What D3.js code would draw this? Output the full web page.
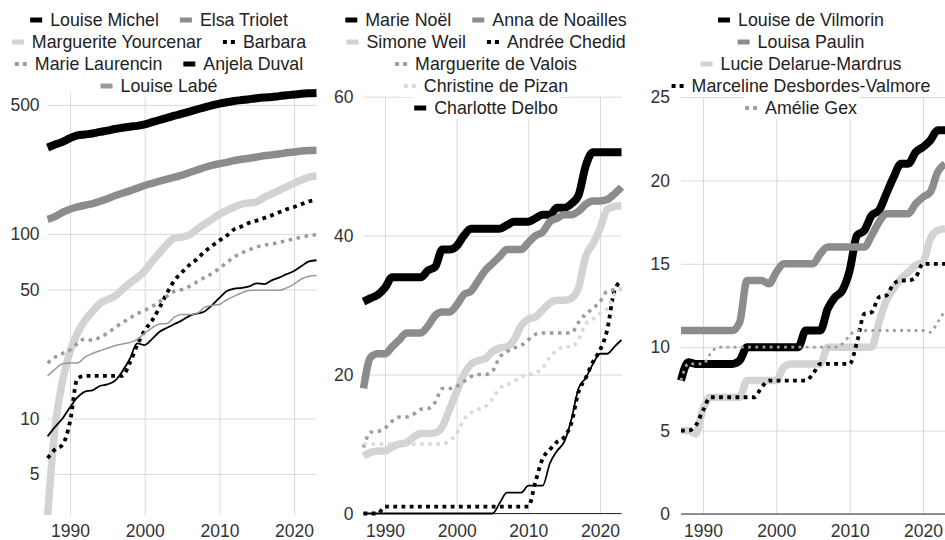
<!DOCTYPE html>
<html><head><meta charset="utf-8">
<script src="https://cdn.jsdelivr.net/npm/d3@7"></script>
<style>
body{margin:0;background:#fff;overflow:hidden;}
text{font-family:"Liberation Sans",Arial,sans-serif;}
</style>
</head><body>
<svg id="c" width="945" height="540"></svg>
<script>
// ---------- DATA ----------
const years = d3.range(1987, 2024); // 1987..2023
const xTickYears = [1990, 2000, 2010, 2020];

// Panel 1 (log scale)
const p1Ticks = [5, 10, 50, 100, 500];
const louiseMichel = [294,305,315,330,342,346,350,357,363,370, 376,381,385,392,403,414,425,437,448,460, 472,485,497,508,517,525,531,537,543,548, 552,558,564,569,575,578,580];
const elsaTriolet = [120,124,131,136,140,143,146,150,155,161, 166,171,177,183,188,193,198,203,208,215, 222,229,235,240,244,250,254,257,261,265, 268,271,275,278,281,283,284];
const margueriteYourcenar = [3,9,16,23,29,34,38,42,44,46, 50,54,58,63,71,79,88,95,96,99, 106,113,120,128,134,140,145,147,149,158, 165,172,180,188,196,203,206];
const barbara = [6.1,6.8,7.2,9.6,16.5,17,17,17,17,17, 17,20,25,30,34,40,48,56,62,68, 73,80,86,92,98,106,110,115,118,122, 126,131,136,140,145,150,153];
const marieLaurencin = [20,21.5,22.5,23.5,25.5,27,26.5,27.5,29,31, 33,35,37,38.5,40.5,43,46,49,50,52, 55,58,61,65,70,75,79,82,85,87, 88,90,92,94,96,98,99];
const anjelaDuval = [8,9,10,11.5,13,14,14.2,15,15.3,16, 18,21,25.5,25,27,29.5,31,32.5,34,36, 37,38,41,45,49,50.5,51,52,54,53.5, 56,58,60.5,63,67,71,72];
const louiseLabe = [17,18.5,19.8,20,20,21.5,22.5,23.3,24,24.8, 25.3,25.8,26.8,29,31,32.5,32.7,35.5,36.6,36.6, 37,40,41,41.5,44,46,48,49.3,49.5,49.5, 49.5,49.5,51,53.5,57,59,59.5];

// Panel 2
const p2Ticks = [0, 20, 40, 60];
const marieNoel = [30.5,31,31.5,32.5,34,34,34,34,34,35, 35.5,38,38,38.5,40,41,41,41,41,41, 41.5,42,42,42,42.5,43,43,44,44,44.6, 45.8,50,52,52,52,52,52];
const annaDeNoailles = [18,22.5,23,23,24,25,26,26,26,27, 28.5,29,29,30,31.5,32,33.5,35,36,37, 38,38,38,39,40,40.5,42,42.5,43,43, 43.5,44.5,45,45,45.2,46,47];
const simoneWeil = [8.3,8.8,9,9,9.6,10,10.2,11,11.5,11.5, 11.6,12.5,15,17.5,20,21.5,22,22.3,23.3,23.8, 24,25,27,28,28.3,29.3,30.3,30.7,30.7,31, 32.5,37,38.8,41,43.8,44.2,44.3];
const andreeChedid = [0,0,0,1,1,1,1,1,1,1, 1,1,1,1,1,1,1,1,1,1, 1,1,1,1,4.6,7.9,9.2,10.3,11,13, 17.5,19.5,21.8,23.5,26.4,32,33.5];
const margueriteDeValois = [9.5,11.7,11.8,12.3,13.3,13.9,13.9,14.3,15,15.1, 16,18,18,18.3,19,19.7,20,20,20.5,22.5, 23.3,23.8,24.2,25,25.8,26,26,26,26,26, 27.5,28.7,29.5,30.5,32,32.2,32.3];
const christineDePizan = [10,10,10,10,10,10,10,10,10,10, 10,10,10.5,11.5,13.5,14.5,15,15.4,16.5,18, 18.5,19,19.7,20,20.2,21,22.5,23.5,24,24, 25,27.3,28,28.8,29.5,31.5,32.3];
const charlotteDelbo = [0,0,0,0,0,0,0,0,0,0, 0,0,0,0,0,0,0,0,0,1.5, 3,3,3,4,4,4,7.2,9,10.3,13.5, 18,19.5,21.5,23,23,24,25];

// Panel 3
const p3Ticks = [0, 5, 10, 15, 20, 25];
const louiseDeVilmorin = [8,9.1,9,9,9,9,9,9,9.2,10, 10,10,10,10,10,10,10,11,11,11, 12.3,13,13.4,14.6,16.7,17,17.9,18.2,19.2,20.2, 21,21,21.7,22,22.4,23,23];
const louisaPaulin = [11,11,11,11,11,11,11,11,11.5,14, 14,14,13.8,14.5,15,15,15,15,15,15.6, 16,16,16,16,16,16,16.7,17.5,18,18, 18,18,18.6,19,19.3,20.5,21];
const lucieDelarueMardrus = [5,5,4.8,6.3,7,7,7,7,7,8, 8,8,8,8,8.8,9,9,9,9,9, 10,10,10,10,10,10,10,11.5,12.8,13.5, 14.1,14.5,14.9,15.1,16.5,17,17.1];
const marcelineDesbordesValmore = [5,5,5.3,6.2,7,7,7,7,7,7, 7,7.6,8,8,8,8,8,8,8.4,9, 9,9,9,9,10.3,12,12.1,13,13.1,13.8, 14,14,14.2,15,15,15,15];
const amelieGex = [8,9,9,9,9.6,10,10,10,10,10, 10,10,10,10,10,10,10,10,10,10, 10,10,10.2,10.7,11,11,11,11,11,11, 11,11,11,11,10.9,11.5,12.2];

// ---------- STYLES ----------
const styles = {
  thickBlack: {stroke:'#000000', width:8},
  thickGray:  {stroke:'#8c8c8c', width:7.5},
  thickLight: {stroke:'#d3d3d3', width:7.5},
  dotBlack:   {stroke:'#000000', width:3.8, dash:'3.8,4.4'},
  dotGray:    {stroke:'#9c9c9c', width:3.5, dash:'3.5,4.6'},
  dotLight:   {stroke:'#d9d9d9', width:3.5, dash:'3.5,4.6'},
  dotGraySm:  {stroke:'#a0a0a0', width:2.8, dash:'2.8,4.4'},
  thinBlack:  {stroke:'#000000', width:1.8},
  thinGray:   {stroke:'#999999', width:1.5}
};

const panels = [
  {x0:47.6, x1:316.5, log:true, domain:[3,580], y0:515, y1:93, ticks:p1Ticks, gap:8, legendCx:159, rows:[2,2,2,1], clip:true,
   series:[
    {name:'Louise Michel', values:louiseMichel, style:'thickBlack'},
    {name:'Elsa Triolet', values:elsaTriolet, style:'thickGray'},
    {name:'Marguerite Yourcenar', values:margueriteYourcenar, style:'thickLight'},
    {name:'Barbara', values:barbara, style:'dotBlack'},
    {name:'Marie Laurencin', values:marieLaurencin, style:'dotGray'},
    {name:'Anjela Duval', values:anjelaDuval, style:'thinBlack'},
    {name:'Louise Labé', values:louiseLabe, style:'thinGray'}
   ]},
  {x0:363.5, x1:621.5, log:false, domain:[0,60], y0:513.5, y1:96.7, ticks:p2Ticks, gap:10, legendCx:486, rows:[2,2,1,1,1], baseline:true,
   series:[
    {name:'Marie Noël', values:marieNoel, style:'thickBlack'},
    {name:'Anna de Noailles', values:annaDeNoailles, style:'thickGray'},
    {name:'Simone Weil', values:simoneWeil, style:'thickLight'},
    {name:'Andrée Chedid', values:andreeChedid, style:'dotBlack'},
    {name:'Marguerite de Valois', values:margueriteDeValois, style:'dotGray'},
    {name:'Christine de Pizan', values:christineDePizan, style:'dotLight'},
    {name:'Charlotte Delbo', values:charlotteDelbo, style:'thinBlack'}
   ]},
  {x0:681, x1:945, log:false, domain:[0,25], y0:514, y1:97, ticks:p3Ticks, gap:11, legendCx:801, rows:[1,1,1,1,1], baseline:true,
   series:[
    {name:'Louise de Vilmorin', values:louiseDeVilmorin, style:'thickBlack'},
    {name:'Louisa Paulin', values:louisaPaulin, style:'thickGray'},
    {name:'Lucie Delarue-Mardrus', values:lucieDelarueMardrus, style:'thickLight'},
    {name:'Marceline Desbordes-Valmore', values:marcelineDesbordesValmore, style:'dotBlack'},
    {name:'Amélie Gex', values:amelieGex, style:'dotGraySm'}
   ]}
];

const GRID = '#dadada';
const TXT = '#333';
const FS = 17.5;
const LFS = 17.8;
const svg = d3.select('#c');

panels.forEach((p, pi) => {
  const g = svg.append('g');
  const x = d3.scaleLinear().domain([1987, 2023]).range([p.x0, p.x1]);
  const y = (p.log ? d3.scaleLog() : d3.scaleLinear()).domain(p.domain).range([p.y0, p.y1]);

  // y axis + horizontal grid
  const ya = g.append('g').attr('transform', `translate(${p.x0},0)`)
    .call(d3.axisLeft(y).tickValues(p.ticks).tickSize(-(p.x1 - p.x0)).tickPadding(p.gap).tickFormat(d3.format('d')));
  ya.select('.domain').remove();
  ya.selectAll('line').attr('stroke', GRID).attr('stroke-width', 1);
  ya.selectAll('text').attr('fill', TXT).style('font-size', FS + 'px').style('font-family', '"Liberation Sans", Arial, sans-serif');

  // x axis + vertical grid
  const xa = g.append('g').attr('transform', `translate(0,${p.y0})`)
    .call(d3.axisBottom(x).tickValues(xTickYears).tickSize(-(p.y0 - p.y1)).tickPadding(525 - p.y0).tickFormat(d3.format('d')));
  xa.select('.domain').remove();
  xa.selectAll('line').attr('stroke', GRID).attr('stroke-width', 1);
  xa.selectAll('text').attr('fill', TXT).style('font-size', FS + 'px').style('font-family', '"Liberation Sans", Arial, sans-serif');

  if (p.baseline) {
    g.append('line').attr('x1', p.x0).attr('x2', p.x1).attr('y1', y(0)).attr('y2', y(0))
      .attr('stroke', '#333').attr('stroke-width', 1.2);
  }

  // clip
  let lg = g.append('g');
  if (p.clip) {
    const id = 'clip' + pi;
    svg.append('defs').append('clipPath').attr('id', id).append('rect')
      .attr('x', 0).attr('y', 0).attr('width', 945).attr('height', p.y0 + 0.5);
    lg.attr('clip-path', `url(#${id})`);
  }

  const line = d3.line().x((d, i) => x(years[i])).y(d => y(d)).curve(d3.curveMonotoneX);
  p.series.forEach(s => {
    const st = styles[s.style];
    lg.append('path').datum(s.values).attr('d', line)
      .attr('fill', 'none').attr('stroke', st.stroke).attr('stroke-width', st.width)
      .attr('stroke-dasharray', st.dash || null).attr('stroke-linejoin', 'round');
  });

  // legend
  const leg = g.append('g');
  let idx = 0;
  p.rows.forEach((n, ri) => {
    const items = p.series.slice(idx, idx + n);
    idx += n;
    const cy = 20 + 22 * ri;
    const row = leg.append('g');
    const built = items.map(s => {
      const ig = row.append('g');
      const bg = ig.append('rect').attr('fill', '#fff');
      const st = styles[s.style];
      if (st.dash) {
        ig.append('line').attr('x1', 0).attr('x2', 12).attr('y1', cy).attr('y2', cy)
          .attr('stroke', st.stroke).attr('stroke-width', 4).attr('stroke-dasharray', '4,4');
      } else {
        ig.append('rect').attr('x', 0).attr('y', cy - 2.5).attr('width', 12).attr('height', 5).attr('fill', st.stroke);
      }
      const t = ig.append('text').attr('x', 20).attr('y', cy).attr('dy', '0.35em')
        .attr('fill', '#222').style('font-size', LFS + 'px').text(s.name);
      const w = 20 + t.node().getComputedTextLength();
      bg.attr('x', -2).attr('y', cy - 11).attr('width', w + 4).attr('height', 22);
      return {ig, w};
    });
    const gapItems = 21;
    const total = d3.sum(built, b => b.w) + gapItems * (built.length - 1);
    let cx = p.legendCx - total / 2;
    built.forEach(b => {
      b.ig.attr('transform', `translate(${cx},0)`);
      cx += b.w + gapItems;
    });
  });
});
</script>
</body></html>
